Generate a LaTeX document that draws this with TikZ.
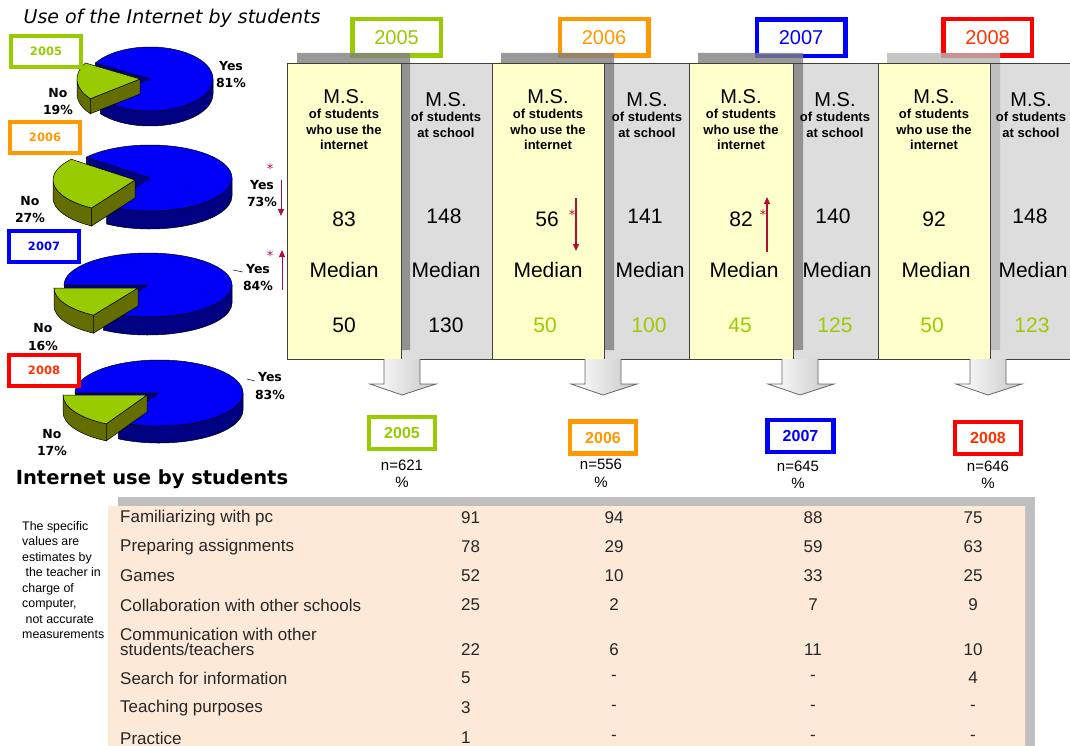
\documentclass[tikz,border=0pt]{standalone}
\usepackage{fontspec}
\setmainfont{Liberation Sans}
\newfontfamily\verd{DejaVu Sans}
\usepackage{xcolor}
\usetikzlibrary{arrows.meta,positioning}

\definecolor{yrgreen}{RGB}{153,204,0}
\definecolor{yrorange}{RGB}{255,153,0}
\definecolor{yrblue}{RGB}{0,0,255}
\definecolor{yrred}{RGB}{255,0,0}
\definecolor{yrredtxt}{RGB}{255,51,0}
\definecolor{pieblue}{RGB}{0,0,250}
\definecolor{piedark}{RGB}{0,0,130}
\definecolor{piegreen}{RGB}{153,204,0}
\definecolor{pieolive}{RGB}{100,110,0}
\definecolor{crimson}{RGB}{176,16,56}
\definecolor{peach}{RGB}{253,233,216}
\definecolor{colyel}{RGB}{255,255,204}
\definecolor{colgray}{RGB}{221,221,221}

% 3d pie: cx, cy, rx, ry, depth, no-start, no-end, dx, dy
\newcommand{\threedpie}[9]{%
  \filldraw[fill=piedark, draw=black, line width=0.5pt] (#1,#2) -- ++(#7:#3 and #4) -- ++(0,#5) -- (#1,#2+#5) -- cycle;
  \filldraw[fill=piedark, draw=black, line width=0.5pt] (#1+#3,#2) arc[start angle=0, end angle=#6, x radius=#3, y radius=#4] -- ++(0,#5) arc[start angle=#6, end angle=0, x radius=#3, y radius=#4] -- cycle;
  \filldraw[fill=pieblue, draw=black, line width=0.5pt] (#1,#2) -- ++(#7:#3 and #4) arc[start angle=#7, end angle=#6+360, x radius=#3, y radius=#4] -- cycle;
  \filldraw[fill=pieolive, draw=black, line width=0.5pt] (#1+#8,#2+#9) ++(#6:#3 and #4) arc[start angle=#6, end angle=180, x radius=#3, y radius=#4] -- ++(0,#5) arc[start angle=180, end angle=#6, x radius=#3, y radius=#4] -- cycle;
  \filldraw[fill=pieolive, draw=black, line width=0.5pt] (#1+#8,#2+#9) -- ++(#6:#3 and #4) -- ++(0,#5) -- (#1+#8,#2+#9+#5) -- cycle;
  \filldraw[fill=piegreen, draw=black, line width=0.5pt] (#1+#8,#2+#9) -- ++(#6:#3 and #4) arc[start angle=#6, end angle=#7, x radius=#3, y radius=#4] -- cycle;
}

% hollow arrow under a column
\newcommand{\blockarrow}[1]{%
  \shade[left color=white, right color=black!22] (#1-18,359) -- (#1-18,384) -- (#1-32,384) -- (#1,395) -- (#1+34,384) -- (#1+18,384) -- (#1+18,359) -- cycle;
  \draw[draw=black!60, line width=0.8pt] (#1-18,359) -- (#1-18,384) -- (#1-32,384) -- (#1,395) -- (#1+34,384) -- (#1+18,384) -- (#1+18,359);
}

\begin{document}
\begin{tikzpicture}[x=1pt, y=-1pt,
        yrtop/.style={draw=#1, text=#1, line width=4.5pt, fill=white, minimum width=88.5pt, minimum height=36.5pt, inner sep=0pt, font=\fontsize{20}{24}\selectfont},
        yrbot/.style={draw=#1, text=#1, line width=4.5pt, fill=white, minimum width=66pt, minimum height=32pt, inner sep=0pt, font=\bfseries\fontsize{16}{19}\selectfont},
        yrpie/.style={draw=#1, text=#1, line width=4pt, fill=white, minimum width=70pt, minimum height=31pt, inner sep=0pt, font=\verd\bfseries\fontsize{11.5}{14}\selectfont},
        pielbl/.style={align=center, inner sep=0pt, font=\verd\bfseries\fontsize{12.5}{17.5}\selectfont},
        ms/.style={inner sep=0pt, font=\fontsize{20}{24}\selectfont},
        msnote/.style={align=center, inner sep=0pt, font=\bfseries\fontsize{13}{15.5}\selectfont},
        val/.style={inner sep=0pt, font=\fontsize{21}{25}\selectfont},
        redstar/.style={inner sep=0pt, text=crimson, font=\verd\fontsize{13}{13}\selectfont},
        redarr/.style={crimson, line width=1.2pt, -{Triangle[length=7pt,width=6pt]}},
        yelshade/.style={top color=colyel, middle color=white, bottom color=colyel},
        shadowbar/.style={fill=black!50, opacity=0.8},
        colline/.style={draw=black!75, line width=0.8pt},
        row/.style={anchor=west, inner sep=0pt, text=black!85, font=\fontsize{17}{15.6}\selectfont},
        num/.style={inner sep=0pt, text=black!85, font=\fontsize{17}{20}\selectfont},
        nlbl/.style={inner sep=0pt, font=\fontsize{15}{18}\selectfont}
    ]
        \useasboundingbox[fill=white] (0,0) rectangle (1070,746);

        % Title and pies
        \node (title) at (172,18) [font=\verd\itshape\fontsize{19}{21}\selectfont] {Use of the Internet by students};

        \threedpie{150}{79}{63}{32}{15}{142}{210}{-10}{0}
        \threedpie{150}{178}{82}{33}{18}{122}{219}{-15}{2}
        \threedpie{148}{285}{84}{32}{18}{122}{180}{-10}{3}
        \threedpie{159}{393}{84}{33}{17}{119}{180}{-12}{2}

        \node (pb05) at (46,51.5) [yrpie=yrgreen] {2005};
        \node (pb06) at (45,137.5) [yrpie=yrorange] {2006};
        \node (pb07) at (44,246.5) [yrpie=yrblue] {2007};
        \node (pb08) at (44,370) [yrpie=yrred, text=yrredtxt] {2008};

        \node (py05) at (231,74.5) [pielbl] {Yes\\81\%};
        \node (pn05) at (58,101.5) [pielbl] {No\\19\%};
        \node (py06) at (262,193.5) [pielbl] {Yes\\73\%};
        \node (pn06) at (30,209.5) [pielbl] {No\\27\%};
        \node (py07) at (258,277.5) [pielbl] {Yes\\84\%};
        \node (pn07) at (43,337) [pielbl] {No\\16\%};
        \node (py08) at (270,386) [pielbl] {Yes\\83\%};
        \node (pn08) at (52,442.5) [pielbl] {No\\17\%};

        % leaders
        \draw[line width=0.5pt] (py07.west |- 0,272) -- ++(-10,-2);
        \draw[line width=0.5pt] (py08.west |- 0,381) -- ++(-8,-2);

        % change marks at the pies
        \node (ps06) at (270,169) [redstar] {*};
        \coordinate (pa06) at (281,180);
        \coordinate (pe06) at (281,216);
        \draw[redarr, line width=1pt] (pa06) -- (pe06);
        \node (ps07) at (270,256) [redstar] {*};
        \coordinate (pa07) at (282,290);
        \coordinate (pe07) at (282,250);
        \draw[redarr, line width=1pt] (pa07) -- (pe07);

        % Columns
        \fill[colgray] (401,63) rectangle (1070,359);
        \shade[yelshade] (287,63) rectangle (401,359);
        \shade[yelshade] (492,63) rectangle (604,359);
        \shade[yelshade] (689,63) rectangle (793,359);
        \shade[yelshade] (878,63) rectangle (990,359);

        \node (t05) at (396.5,37.5) [yrtop=yrgreen] {2005};
        \node (t06) at (604,37.5) [yrtop=yrorange] {2006};
        \node (t07) at (801,38) [yrtop=yrblue] {2007};
        \node (t08) at (987.5,37.5) [yrtop=yrred, text=yrredtxt] {2008};

        \fill[shadowbar] (297,53) -- (410,53) -- (410,350) -- (401,350) -- (401,63) -- (297,63) -- cycle;
        \fill[shadowbar] (501,53) -- (614,53) -- (614,350) -- (604,350) -- (604,63) -- (501,63) -- cycle;
        \fill[shadowbar] (698,53) -- (803,53) -- (803,350) -- (793,350) -- (793,63) -- (698,63) -- cycle;
        \fill[shadowbar, fill=black!28] (887,53) -- (1000,53) -- (1000,350) -- (990,350) -- (990,63) -- (887,63) -- cycle;

        \draw[colline] (287,63) -- (1070,63);
        \draw[colline] (287,359) -- (1070,359);
        \draw[colline] (287,63) -- (287,359);
        \draw[colline] (401,63) -- (401,359);
        \draw[colline] (492,63) -- (492,359);
        \draw[colline] (604,63) -- (604,359);
        \draw[colline] (689,63) -- (689,359);
        \draw[colline] (793,63) -- (793,359);
        \draw[colline] (878,63) -- (878,359);
        \draw[colline] (990,63) -- (990,359);

        % 2005
        \node (ms05a) at (344,97) [ms] {M.S.};
        \node (nt05a) at (344,129.5) [msnote] {of students\\who use the\\internet};
        \node (ms05b) at (446,100) [ms] {M.S.};
        \node (nt05b) at (446,125) [msnote] {of students\\at school};
        \node (v05a) at (344,219) [val] {83};
        \node (v05b) at (444,216) [val] {148};
        \node (md05a) at (344,270) [val] {Median};
        \node (md05b) at (446,270) [val] {Median};
        \node (m05a) at (344,325) [val] {50};
        \node (m05b) at (446,325) [val] {130};

        % 2006
        \node (ms06a) at (548,97) [ms] {M.S.};
        \node (nt06a) at (548,129.5) [msnote] {of students\\who use the\\internet};
        \node (ms06b) at (647,100) [ms] {M.S.};
        \node (nt06b) at (647,125) [msnote] {of students\\at school};
        \node (v06a) at (547,219) [val] {56};
        \node (v06b) at (645,216) [val] {141};
        \node (md06a) at (548,270) [val] {Median};
        \node (md06b) at (650,270) [val] {Median};
        \node (m06a) at (545,325) [val, text=yrgreen] {50};
        \node (m06b) at (649,325) [val, text=yrgreen] {100};
        \node (cs06) at (572,215) [redstar] {*};
        \coordinate (ca06) at (576,198);
        \coordinate (ce06) at (576,251);
        \draw[redarr] (ca06) -- (ce06);

        % 2007
        \node (ms07a) at (741,97) [ms] {M.S.};
        \node (nt07a) at (741,129.5) [msnote] {of students\\who use the\\internet};
        \node (ms07b) at (835,100) [ms] {M.S.};
        \node (nt07b) at (835,125) [msnote] {of students\\at school};
        \node (v07a) at (741,219) [val] {82};
        \node (v07b) at (833,216) [val] {140};
        \node (md07a) at (744,270) [val] {Median};
        \node (md07b) at (837,270) [val] {Median};
        \node (m07a) at (740,325) [val, text=yrgreen] {45};
        \node (m07b) at (835,325) [val, text=yrgreen] {125};
        \node (cs07) at (763,215) [redstar] {*};
        \coordinate (ca07) at (767,252);
        \coordinate (ce07) at (767,197);
        \draw[redarr] (ca07) -- (ce07);

        % 2008
        \node (ms08a) at (934,97) [ms] {M.S.};
        \node (nt08a) at (934,129.5) [msnote] {of students\\who use the\\internet};
        \node (ms08b) at (1031,100) [ms] {M.S.};
        \node (nt08b) at (1031,125) [msnote] {of students\\at school};
        \node (v08a) at (934,219) [val] {92};
        \node (v08b) at (1030,216) [val] {148};
        \node (md08a) at (936,270) [val] {Median};
        \node (md08b) at (1033,270) [val] {Median};
        \node (m08a) at (932,325) [val, text=yrgreen] {50};
        \node (m08b) at (1032,325) [val, text=yrgreen] {123};

        % Arrows down to the samples
        \blockarrow{402}
        \blockarrow{603}
        \blockarrow{800}
        \blockarrow{988}

        \node (b05) at (402,433) [yrbot=yrgreen] {2005};
        \node (b06) at (603,437.5) [yrbot=yrorange] {2006};
        \node (b07) at (800.5,436) [yrbot=yrblue] {2007};
        \node (b08) at (988,438) [yrbot=yrred, text=yrredtxt] {2008};
        \node (n05) at (402,465) [nlbl] {n=621};
        \node (n06) at (601,464) [nlbl] {n=556};
        \node (n07) at (798,466) [nlbl] {n=645};
        \node (n08) at (988,466) [nlbl] {n=646};
        \node (pc05) at (402,482) [nlbl] {\%};
        \node (pc06) at (601,482) [nlbl] {\%};
        \node (pc07) at (798,483) [nlbl] {\%};
        \node (pc08) at (988,483) [nlbl] {\%};

        % Table
        \node (usetitle) at (152,479) [font=\verd\bfseries\fontsize{19.5}{22}\selectfont] {Internet use by students};
        \node (note) at (22,521) [anchor=north west, align=left, inner sep=0pt, font=\fontsize{12.4}{15.5}\selectfont] {The specific\\values are\\estimates by\\\ the teacher in\\charge of\\computer,\\\ not accurate\\measurements};

        \fill[black!25] (118,497) rectangle (1035,746);
        \shade[top color=peach, middle color=white, bottom color=peach] (108,506) rectangle (1025,746);

        \node (r1) at (120,518) [row] {Familiarizing with pc};
        \node (r2) at (120,547) [row] {Preparing assignments};
        \node (r3) at (120,576) [row] {Games};
        \node (r4) at (120,605) [row] {Collaboration with other schools};
        \node (r5) at (120,642) [row, align=left] {Communication with other\\students/teachers};
        \node (r6) at (120,678) [row] {Search for information};
        \node (r7) at (120,708) [row] {Teaching purposes};
        \node (r8) at (120,738) [row] {Practice};

        \node (v11) at (461,518) [num, anchor=west] {91};
        \node (v12) at (614,518) [num] {94};
        \node (v13) at (813,518) [num] {88};
        \node (v14) at (973,518) [num] {75};
        \node (v21) at (461,547) [num, anchor=west] {78};
        \node (v22) at (614,547) [num] {29};
        \node (v23) at (813,547) [num] {59};
        \node (v24) at (973,547) [num] {63};
        \node (v31) at (461,576) [num, anchor=west] {52};
        \node (v32) at (614,576) [num] {10};
        \node (v33) at (813,576) [num] {33};
        \node (v34) at (973,576) [num] {25};
        \node (v41) at (461,605) [num, anchor=west] {25};
        \node (v42) at (614,605) [num] {2};
        \node (v43) at (813,605) [num] {7};
        \node (v44) at (973,605) [num] {9};
        \node (v51) at (461,650) [num, anchor=west] {22};
        \node (v52) at (614,650) [num] {6};
        \node (v53) at (813,650) [num] {11};
        \node (v54) at (973,650) [num] {10};
        \node (v61) at (461,678) [num, anchor=west] {5};
        \node (v62) at (614,678) [num] {-};
        \node (v63) at (813,678) [num] {-};
        \node (v64) at (973,678) [num] {4};
        \node (v71) at (461,708) [num, anchor=west] {3};
        \node (v72) at (614,708) [num] {-};
        \node (v73) at (813,708) [num] {-};
        \node (v74) at (973,708) [num] {-};
        \node (v81) at (461,738) [num, anchor=west] {1};
        \node (v82) at (614,738) [num] {-};
        \node (v83) at (813,738) [num] {-};
        \node (v84) at (973,738) [num] {-};
    \end{tikzpicture}
\end{document}
